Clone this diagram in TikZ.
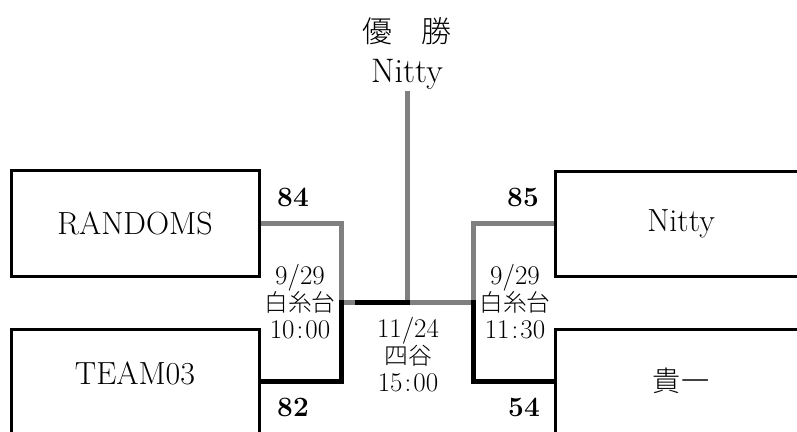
\documentclass[tikz,border=0pt]{standalone}
\usepackage{fontspec}
\newfontfamily\jp{Noto Sans CJK JP Light}[Scale=0.88]
\usepackage{tikz}
\usetikzlibrary{positioning}

\begin{document}
\begin{tikzpicture}[
  x=1pt, y=-1pt,
  teambox/.style={
    rectangle, draw=black, line width=3pt,
    minimum width=248pt, minimum height=106pt, inner sep=0pt,
    font=\fontsize{32pt}{34pt}\selectfont
  },
  win/.style={
    line width=5pt, color=gray
  },
  lose/.style={
    line width=5pt, color=black, line cap=rect
  },
  score/.style={
    font=\fontsize{28pt}{30pt}\selectfont\bfseries, inner sep=0pt
  },
  match/.style={
    font=\fontsize{27pt}{27pt}\selectfont, align=center, inner sep=0pt
  }
]

%% ── Marco de la imagen ───────────────────────────────────────────────────
\useasboundingbox (0,0) rectangle (797,431);
\clip (0,0) rectangle (797,431);

%% ── Campeón ──────────────────────────────────────────────────────────────
\node[font=\fontsize{34pt}{36pt}\selectfont\jp, inner sep=0pt] (champ) at (407,31) {優　勝};
\node[font=\fontsize{34pt}{36pt}\selectfont, inner sep=2pt] (champname) at (407,74) {Nitty};

%% ── Uniones del cuadro ───────────────────────────────────────────────────
\coordinate (jl)  at (341,302);
\coordinate (jls) at (357,302);
\coordinate (jc)  at (407,302);
\coordinate (jr)  at (473,302);

%% ── Equipos (los de abajo salen del marco) ───────────────────────────────
\node[teambox] (rnd) at (135,223) {RANDOMS};
\node[teambox, minimum height=104pt] (tm) at (135,381) {};
\node[teambox, minimum width=252pt, minimum height=105pt] (nit) at (681,223.5) {Nitty};
\node[teambox, minimum width=252pt, minimum height=104pt] (kii) at (681,381) {\jp 貴一};
\node[font=\fontsize{32pt}{34pt}\selectfont] (tmname) at (135,373) {TEAM03};

%% ── Ganadores (gris) ─────────────────────────────────────────────────────
\draw[win] (rnd.east) -| (jl) -- (jls);
\draw[win] (nit.west) -| (jr) -- (jc);
\draw[win] (champname.south) -- (jc);

%% ── Perdedores (negro) ───────────────────────────────────────────────────
\draw[lose] (tm.east) -| (jl);
\draw[lose] (kii.west) -| (jr);
\draw[lose] (jls) -- (jc);

%% ── Marcadores ───────────────────────────────────────────────────────────
\node[score] (s84) at (293,197) {84};
\node[score] (s82) at (293,407) {82};
\node[score] (s85) at (523,197) {85};
\node[score] (s54) at (524,407) {54};

%% ── Fecha, campo y hora de cada partido ──────────────────────────────────
\node[match] (m1) at (300,302) {9/29\\{\jp 白糸台}\\10\kern2pt:\kern2pt00};
\node[match] (m2) at (515,302) {9/29\\{\jp 白糸台}\\11\kern2pt:\kern2pt30};
\node[match] (m3) at (408,355) {11/24\\{\jp 四谷}\\15\kern2pt:\kern2pt00};

\end{tikzpicture}
\end{document}
